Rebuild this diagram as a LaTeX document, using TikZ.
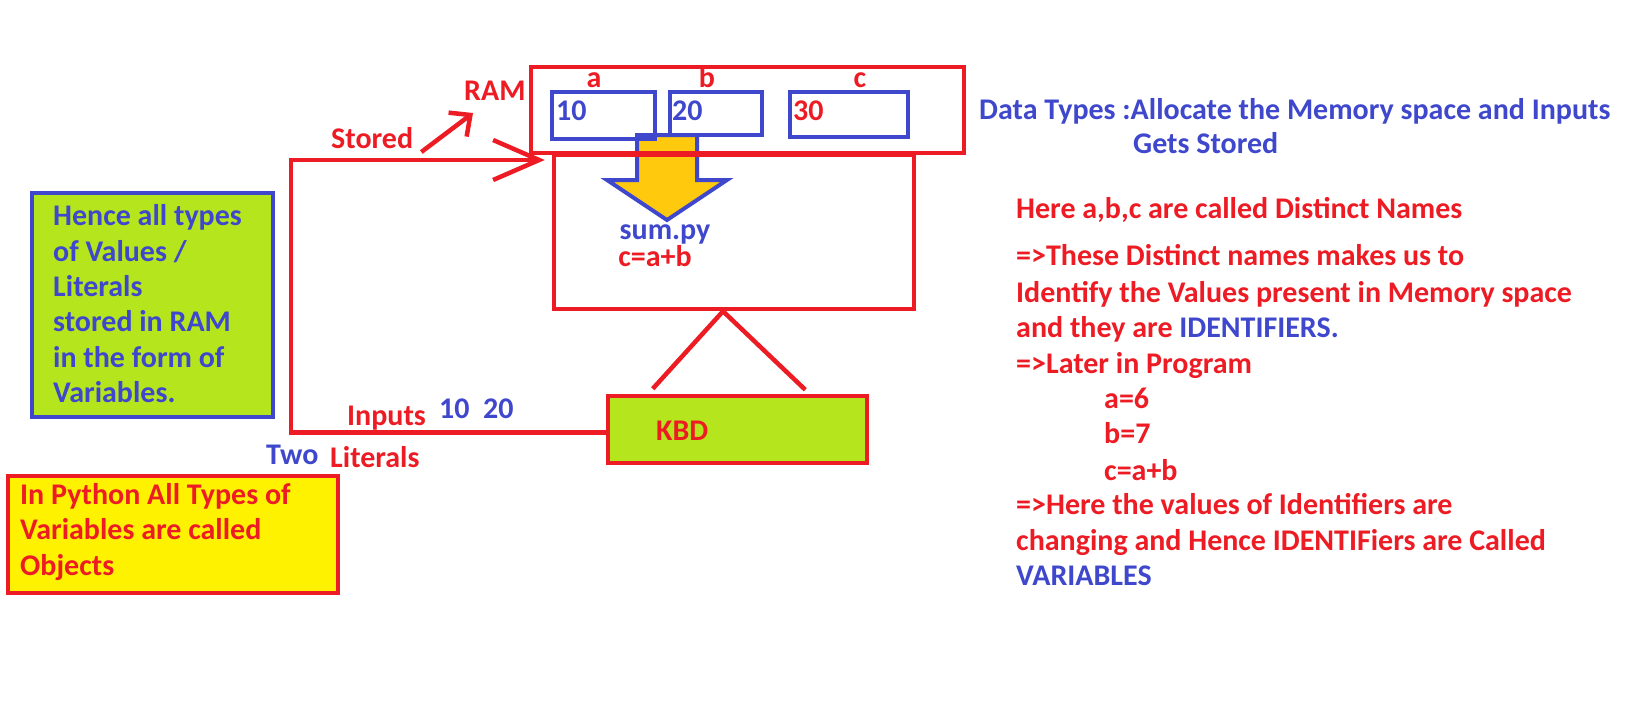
\documentclass[tikz,border=0pt]{standalone}
\usepackage{fontspec}
\setmainfont{Carlito}
\usetikzlibrary{arrows.meta,calc}
\definecolor{pred}{HTML}{ED1C24}
\definecolor{pblue}{HTML}{3F48CC}
\definecolor{plime}{HTML}{B5E61D}
\definecolor{pyellow}{HTML}{FFF200}
\definecolor{pgold}{HTML}{FFC90E}
\begin{document}
\begin{tikzpicture}[x=1pt,y=-1pt,
    txt/.style={inner sep=0pt,anchor=base west,font=\fontsize{30}{36}\selectfont\bfseries},
    redtxt/.style={txt,text=pred},
    bluetxt/.style={txt,text=pblue},
    redbox/.style={draw=pred,line width=4.5pt,inner sep=0pt},
    cellbox/.style={draw=pblue,line width=4pt,inner sep=0pt},
    redline/.style={draw=pred,line width=4.5pt}]
    \useasboundingbox[fill=white] (0,0) rectangle (1640,720);

    % yellow arrow from the cells into sum.py
    \filldraw[fill=pgold,draw=pblue,line width=4pt,line join=miter]
        (637,135) -- (697,135) -- (697,180) -- (727,180) -- (667,220)
        -- (607,180) -- (637,180) -- cycle;

    % RAM with its three cells
    \node[redbox,minimum width=433,minimum height=86] (ram) at (747.5,110) {};
    \node[cellbox,minimum width=103,minimum height=47] (cellA) at (603.5,115.5) {};
    \node[cellbox,minimum width=92,minimum height=43] (cellB) at (716,113.5) {};
    \node[cellbox,minimum width=118,minimum height=45] (cellC) at (849,114.5) {};
    \node[bluetxt] (valA) at (556,120) {10};
    \node[bluetxt] (valB) at (672,120) {20};
    \node[redtxt] (valC) at (793,120) {30};
    \node[redtxt,anchor=base] (nameA) at (594,87) {a};
    \node[redtxt,anchor=base] (nameB) at (707,87) {b};
    \node[redtxt,anchor=base] (nameC) at (860,87) {c};
    \node[redtxt] (ramlbl) at (464,100) {RAM};

    % program box
    \node[redbox,minimum width=360,minimum height=154] (sum) at (734,232) {};
    \node[bluetxt,anchor=base] (sumname) at (665,239) {sum.py};
    \node[redtxt,anchor=base] (sumcode) at (655,266) {c=a+b};

    % keyboard
    \node[redbox,fill=plime,minimum width=259,minimum height=67] (kbd) at (737.5,429.5) {};
    \node[redtxt] (kbdlbl) at (656,440) {KBD};
    \draw[redline] ($(kbd.north west)+(47,-5)$) -- ($(sum.south)+(-11,0)$)
        -- ($(kbd.north east)+(-64,-4)$);

    % inputs go round into the program
    \coordinate (loopTop) at (291,160);
    \draw[redline,-{Straight Barb[length=46pt,width=40pt]}]
        ($(kbd.west)+(0,3)$) -| (loopTop) -- ($(sum.west |- loopTop)+(-7,0)$);
    \node[redtxt] (inputs) at (347,425) {Inputs};
    \node[bluetxt] (invals) at (439,418) {10\ \ 20};
    \node[bluetxt] (two) at (266,464) {Two};
    \node[redtxt] (literals) at (330,467) {Literals};
    \node[redtxt] (stored) at (331,148) {Stored};
    \draw[redline,-{Straight Barb[length=16pt,width=30pt]}]
        ($(stored.base east)+(8,4)$) -- ($(ramlbl.base west)+(9,13)$);

    % notes on the left
    \node[draw=pblue,fill=plime,line width=4.5pt,minimum width=241,minimum height=224] (note) at (152.5,305) {};
    \node[bluetxt] at (53,225) {Hence all types};
    \node[bluetxt] at (53,261) {of Values /};
    \node[bluetxt] at (53,296) {Literals};
    \node[bluetxt] at (53,331) {stored in RAM};
    \node[bluetxt] at (53,367) {in the form of};
    \node[bluetxt] at (53,402) {Variables.};
    \node[redbox,fill=pyellow,minimum width=330,minimum height=117] (objnote) at (173,534.5) {};
    \node[redtxt] at (20,504) {In Python All Types of};
    \node[redtxt] at (20,539) {Variables are called};
    \node[redtxt] at (20,575) {Objects};

    % notes on the right
    \node[bluetxt] (dtypes) at (979,119) {Data Types :Allocate the Memory space and Inputs};
    \node[bluetxt] at (1133,153) {Gets Stored};
    \node[redtxt] at (1016,218) {Here a,b,c are called Distinct Names};
    \node[redtxt] at (1016,265) {=>These Distinct names makes us to};
    \node[redtxt] at (1016,302) {Identify the Values present in Memory space};
    \node[redtxt] at (1016,337) {and they are \textcolor{pblue}{IDENTIFIERS.}};
    \node[redtxt] at (1016,373) {=>Later in Program};
    \node[redtxt] at (1104,408) {a=6};
    \node[redtxt] at (1104,443) {b=7};
    \node[redtxt] at (1104,480) {c=a+b};
    \node[redtxt] at (1016,514) {=>Here the values of Identifiers are};
    \node[redtxt] at (1016,550) {changing and Hence IDENTIFiers are Called};
    \node[bluetxt] at (1016,585) {VARIABLES};
\end{tikzpicture}
\end{document}
